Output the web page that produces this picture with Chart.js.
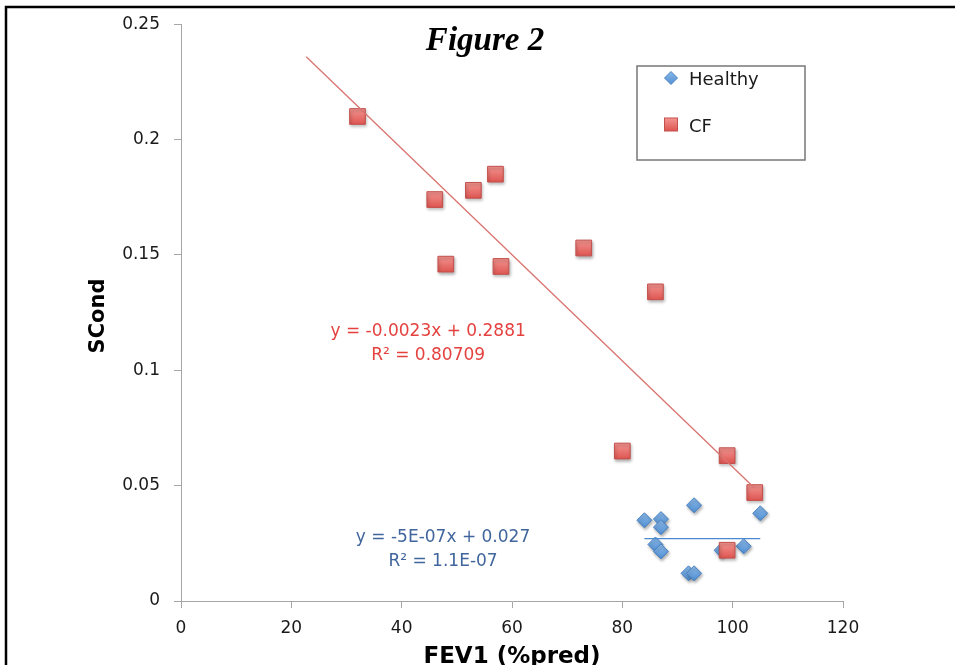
<!DOCTYPE html>
<html>
<head>
<meta charset="utf-8">
<script src="https://cdn.jsdelivr.net/npm/chart.js@4.4.1/dist/chart.umd.min.js"></script>
<style>
  html, body { margin: 0; padding: 0; background: #fff; overflow: hidden; }
  #wrap { width: 955px; height: 665px; position: relative; }
</style>
</head>
<body>
<div id="wrap"><canvas id="fig2"></canvas></div>
<script>
// values
const healthyX = [84, 87, 87, 93, 105, 86, 87, 102, 98, 92, 93];
const healthyY = [0.035, 0.0355, 0.032, 0.0415, 0.038, 0.0245, 0.0215, 0.0237, 0.022, 0.012, 0.012];

const cfX = [32, 46, 53, 57, 48, 58, 73, 86, 80, 99, 104, 99];
const cfY = [0.21, 0.174, 0.178, 0.185, 0.146, 0.145, 0.153, 0.134, 0.065, 0.063, 0.047, 0.022];

// trendline end points
const cfTrendX = [22.7, 104];
const cfTrendY = [0.2359, 0.0489];
const healthyTrendX = [84, 105];
const healthyTrendY = [0.027, 0.027];

const cfEquation = ['y = -0.0023x + 0.2881', 'R² = 0.80709'];
const healthyEquation = ['y = -5E-07x + 0.027', 'R² = 1.1E-07'];

const seriesNames = ['Healthy', 'CF'];
const xTicks = [0, 20, 40, 60, 80, 100, 120];
const yTicks = [0, 0.05, 0.1, 0.15, 0.2, 0.25];

const toPoints = (xs, ys) => xs.map((x, i) => ({ x: x, y: ys[i] }));

const SANS = '"DejaVu Sans", sans-serif';
const axisGray = '#a6a6a6';

// little top-to-bottom shading on each marker
function markerFill(top, bottom, half) {
  return context => {
    const chart = context.chart;
    if (!chart.scales.y || !context.parsed) return bottom;
    const py = chart.scales.y.getPixelForValue(context.parsed.y);
    if (!Number.isFinite(py)) return bottom;
    const g = chart.ctx.createLinearGradient(0, py - half, 0, py + half);
    g.addColorStop(0, top);
    g.addColorStop(1, bottom);
    return g;
  };
}

// white page + black frame of the original image
const framePlugin = {
  id: 'frame',
  beforeDraw(chart) {
    const ctx = chart.ctx;
    ctx.save();
    ctx.fillStyle = '#fff';
    ctx.fillRect(0, 0, chart.width, chart.height);
    ctx.strokeStyle = '#000';
    ctx.lineWidth = 2.5;
    ctx.beginPath();
    ctx.moveTo(chart.width + 10, 7);
    ctx.lineTo(6, 7);
    ctx.lineTo(6, chart.height + 10);
    ctx.stroke();
    ctx.restore();
  },
};

// soft shadow under the markers
const shadowPlugin = {
  id: 'markerShadow',
  beforeDatasetDraw(chart, args) {
    const ctx = chart.ctx;
    ctx.save();
    if (!chart.data.datasets[args.index].showLine) {
      ctx.shadowColor = 'rgba(0,0,0,0.3)';
      ctx.shadowBlur = 3;
      ctx.shadowOffsetX = 1;
      ctx.shadowOffsetY = 2;
    }
  },
  afterDatasetDraw(chart) {
    chart.ctx.restore();
  },
};

function drawDiamond(ctx, x, y, r, fill, stroke) {
  ctx.beginPath();
  ctx.moveTo(x - r, y);
  ctx.lineTo(x, y - r);
  ctx.lineTo(x + r, y);
  ctx.lineTo(x, y + r);
  ctx.closePath();
  ctx.fillStyle = fill;
  ctx.fill();
  ctx.strokeStyle = stroke;
  ctx.lineWidth = 1;
  ctx.stroke();
}

const textPlugin = {
  id: 'figureText',
  afterDraw(chart) {
    const ctx = chart.ctx;
    const xs = chart.scales.x;
    const ys = chart.scales.y;
    ctx.save();

    // title
    ctx.fillStyle = '#000';
    ctx.font = 'italic bold 33px "Liberation Serif", serif';
    ctx.textAlign = 'center';
    ctx.textBaseline = 'alphabetic';
    ctx.fillText('Figure 2', 485, 50);

    // axis titles
    ctx.font = 'bold 23px ' + SANS;
    ctx.fillText('FEV1 (%pred)', (chart.chartArea.left + chart.chartArea.right) / 2, 663);
    ctx.save();
    ctx.translate(104, 316);
    ctx.rotate(-Math.PI / 2);
    ctx.font = 'bold 21px ' + SANS;
    ctx.fillText('SCond', 0, 0);
    ctx.restore();

    // trendline equations
    ctx.font = '17px ' + SANS;
    ctx.textBaseline = 'middle';
    ctx.fillStyle = '#e4423f';
    ctx.fillText(cfEquation[0], xs.getPixelForValue(44.8), ys.getPixelForValue(0.1166));
    ctx.fillText(cfEquation[1], xs.getPixelForValue(44.8), ys.getPixelForValue(0.1062));
    ctx.fillStyle = '#40669d';
    ctx.fillText(healthyEquation[0], xs.getPixelForValue(47.5), ys.getPixelForValue(0.0277));
    ctx.fillText(healthyEquation[1], xs.getPixelForValue(47.5), ys.getPixelForValue(0.0169));

    // legend box
    ctx.strokeStyle = '#777';
    ctx.lineWidth = 1.5;
    ctx.strokeRect(637, 66, 168, 94);
    const h = chart.data.datasets[2];
    const c = chart.data.datasets[3];
    const gh = ctx.createLinearGradient(0, 71, 0, 85);
    gh.addColorStop(0, '#8dbbea');
    gh.addColorStop(1, '#4f8ed2');
    drawDiamond(ctx, 671, 78, 6.5, gh, h.borderColor);
    const gc = ctx.createLinearGradient(0, 118, 0, 131);
    gc.addColorStop(0, '#f39591');
    gc.addColorStop(1, '#de5551');
    ctx.fillStyle = gc;
    ctx.fillRect(664.5, 118, 13, 13);
    ctx.strokeStyle = c.borderColor;
    ctx.lineWidth = 1;
    ctx.strokeRect(664.5, 118, 13, 13);
    ctx.fillStyle = '#1a1a1a';
    ctx.textAlign = 'left';
    ctx.font = '18px ' + SANS;
    ctx.fillText(seriesNames[0], 689, 80);
    ctx.fillText(seriesNames[1], 689, 127);

    ctx.restore();
  },
};

const config = {
  type: 'scatter',
  data: {
    datasets: [
      {
        label: 'CF trend',
        data: toPoints(cfTrendX, cfTrendY),
        showLine: true,
        borderColor: '#d9736f',
        borderWidth: 1.3,
        pointRadius: 0,
        order: 0,
      },
      {
        label: 'Healthy trend',
        data: toPoints(healthyTrendX, healthyTrendY),
        showLine: true,
        borderColor: '#4a88d0',
        borderWidth: 1.3,
        pointRadius: 0,
        order: 0,
      },
      {
        label: seriesNames[0],
        data: toPoints(healthyX, healthyY),
        pointStyle: 'rectRot',
        pointRadius: 7.5,
        pointHoverRadius: 7.5,
        backgroundColor: markerFill('#8dbbea', '#4f8ed2', 7.5),
        borderColor: '#4a82c2',
        borderWidth: 1,
        order: 2,
      },
      {
        label: seriesNames[1],
        data: toPoints(cfX, cfY),
        pointStyle: 'rect',
        pointRadius: 11.1,
        pointHoverRadius: 11.1,
        backgroundColor: markerFill('#f39591', '#de5551', 8),
        borderColor: '#c4504c',
        borderWidth: 1,
        order: 1,
      },
    ],
  },
  options: {
    responsive: true,
    maintainAspectRatio: false,
    animation: false,
    events: [],
    layout: { padding: { left: 0, right: 112, top: 22, bottom: 0 } },
    plugins: {
      legend: { display: false },
      tooltip: { enabled: false },
    },
    scales: {
      x: {
        type: 'linear',
        min: 0,
        max: 120,
        afterFit: scale => { scale.height = 64; },
        afterBuildTicks: scale => { scale.ticks = xTicks.map(v => ({ value: v })); },
        grid: { drawOnChartArea: false, color: axisGray, tickLength: 7 },
        border: { color: axisGray },
        ticks: { color: '#1a1a1a', font: { family: SANS, size: 17 }, padding: 10, maxRotation: 0 },
      },
      y: {
        type: 'linear',
        min: 0,
        max: 0.25,
        afterFit: scale => { scale.width = 181; },
        afterBuildTicks: scale => { scale.ticks = yTicks.map(v => ({ value: v })); },
        grid: { drawOnChartArea: false, color: axisGray, tickLength: 7 },
        border: { color: axisGray },
        ticks: {
          color: '#1a1a1a',
          font: { family: SANS, size: 17 },
          padding: 14,
          callback: v => String(+v.toFixed(2)),
        },
      },
    },
  },
  plugins: [framePlugin, shadowPlugin, textPlugin],
};

new Chart('fig2', config);
</script>
</body>
</html>
